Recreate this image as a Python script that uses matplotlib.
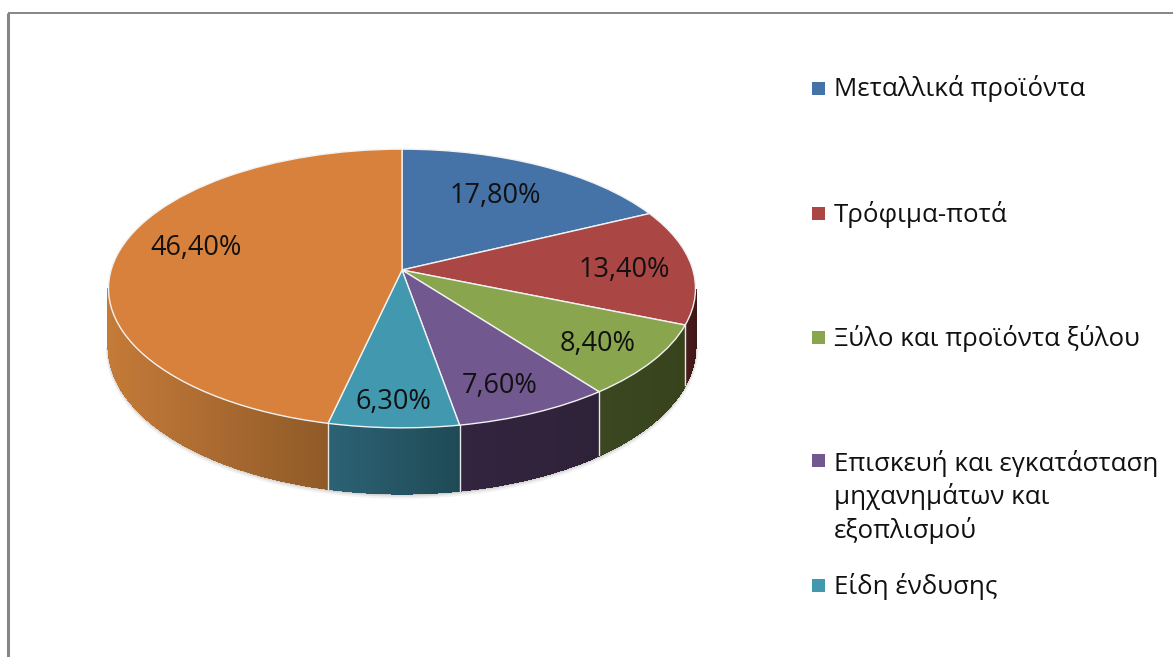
import numpy as np
import matplotlib
matplotlib.use("Agg")
import matplotlib.pyplot as plt
from matplotlib.transforms import Transform
from matplotlib.collections import PolyCollection
from matplotlib.patches import Rectangle
from matplotlib.colors import to_rgb

plt.rcParams['font.family'] = ['Open Sans', 'Noto Sans', 'DejaVu Sans']

# Data
values = [17.8, 13.4, 8.4, 7.6, 6.3, 46.4]
legend_labels = ["Μεταλλικά προϊόντα", "Τρόφιμα-ποτά", "Ξύλο και προϊόντα ξύλου",
                 "Επισκευή και εγκατάσταση\nμηχανημάτων και\nεξοπλισμού", "Είδη ένδυσης"]
top_colors = ["#4572A7", "#AA4643", "#89A54E", "#71588F", "#4198AF", "#D8813C"]
side_light = ["#2C4568", "#4A1C1C", "#3A4720", "#33243F", "#2C6274", "#C47A38"]
side_dark = ["#2C4568", "#3E1616", "#38431C", "#2E2238", "#1F4A56", "#8F5A28"]

# Layout (pixels)
CX, CY, A, B, K = 402.0, 270.0, 290.9, 136.9, 0.1326
DEPTH = 57.0
label_xy = [(495, 196), (624, 270), (598, 344), (500, 386), (393, 402), (196, 248)]
legend_y = [88, 213, 337, 460, 585]
legend_y_text = [89, 214, 338, 497, 586]


class Persp(Transform):
    input_dims = output_dims = 2
    is_separable = False
    has_inverse = False

    def transform_non_affine(self, v):
        v = np.asarray(v, float)
        w = 1 + K * v[:, 1]
        return np.column_stack([CX + A * v[:, 0] / w, CY - B * v[:, 1] / w])


fig = plt.figure(figsize=(11.73, 6.57), dpi=100)
ax = fig.add_axes([0, 0, 1, 1])

persp = Persp()


def rim(theta):
    """Pixel position of top and bottom rim for clockwise angle from 12 o'clock."""
    x, y = np.sin(theta), np.cos(theta)
    top = persp.transform_non_affine(np.column_stack([x, y]))
    bot = top.copy()
    bot[:, 1] += DEPTH / (1 + K * y)
    return top, bot


frac = np.array(values) / sum(values)
edges = np.concatenate([[0], np.cumsum(frac)]) * 2 * np.pi

# soft shadow under the lower rim
th = np.arccos(-K) + np.linspace(0, 2 * (np.pi - np.arccos(-K)), 200)
for grow, alpha in [(4, 0.10), (2.5, 0.16), (1.2, 0.28)]:
    top, bot = rim(th)
    ax.plot(bot[:, 0], bot[:, 1] + grow * 0.6, color='#808080', lw=grow, alpha=alpha,
            solid_capstyle='round', zorder=1)

# side walls with a horizontal gradient
for i in range(len(values)):
    lo, hi = edges[i], edges[i + 1]
    th = np.linspace(lo, hi, max(int((hi - lo) * 120), 2))
    th = th[np.cos(th) <= -K]
    if th.size < 2:
        continue
    top, bot = rim(th)
    xmin, xmax = top[:, 0].min(), top[:, 0].max()
    t = (0.5 * (top[:-1, 0] + top[1:, 0]) - xmin) / max(xmax - xmin, 1)
    c0, c1 = np.array(to_rgb(side_light[i])), np.array(to_rgb(side_dark[i]))
    cols = c0 + (c1 - c0) * t[:, None]
    polys = [np.array([top[j], top[j + 1], bot[j + 1], bot[j]]) for j in range(len(th) - 1)]
    ax.add_collection(PolyCollection(polys, facecolors=cols, edgecolors=cols, linewidths=0.8,
                                     antialiaseds=False, zorder=2))

# divider lines on the wall
for e in edges[2:-1]:
    top, bot = rim(np.array([e]))
    ax.plot([top[0, 0], bot[0, 0]], [top[0, 1], bot[0, 1]], color='#E8E8E8', lw=1.0, zorder=3)

# top disc
wedges, _ = ax.pie(values, colors=top_colors, startangle=90, counterclock=False, radius=1.0,
                   wedgeprops=dict(edgecolor='#F2F2F2', linewidth=1.0, zorder=4))
for w in wedges:
    w.set_transform(persp + ax.transData)
    w.set_zorder(4)

ax.set_aspect('auto')
ax.set_xlim(0, 1173)
ax.set_ylim(657, 0)
ax.axis('off')

# value labels
for v, (x, y) in zip(values, label_xy):
    ax.text(x, y, f"{v:.2f}%".replace('.', ','), ha='center', va='center', fontsize=19.5,
            color='#111111', zorder=6)

# legend
for col, y, yt, lab in zip(top_colors, legend_y, legend_y_text, legend_labels):
    ax.add_patch(Rectangle((812, y - 6.5), 13, 13, facecolor=col, edgecolor='none', zorder=6))
    ax.text(834, yt, lab, ha='left', va='center', fontsize=18.6, color='#111111',
            linespacing=1.33, zorder=6)

# chart frame (top and left edges visible)
ax.plot([7.5, 7.5], [657, 12.5], color='#868686', lw=2.2, zorder=7, solid_capstyle='butt', clip_on=False)
ax.plot([7.5, 1173], [12.5, 12.5], color='#868686', lw=1.4, zorder=7, solid_capstyle='butt', clip_on=False)

fig.savefig("out.png", dpi=100, facecolor='white')
